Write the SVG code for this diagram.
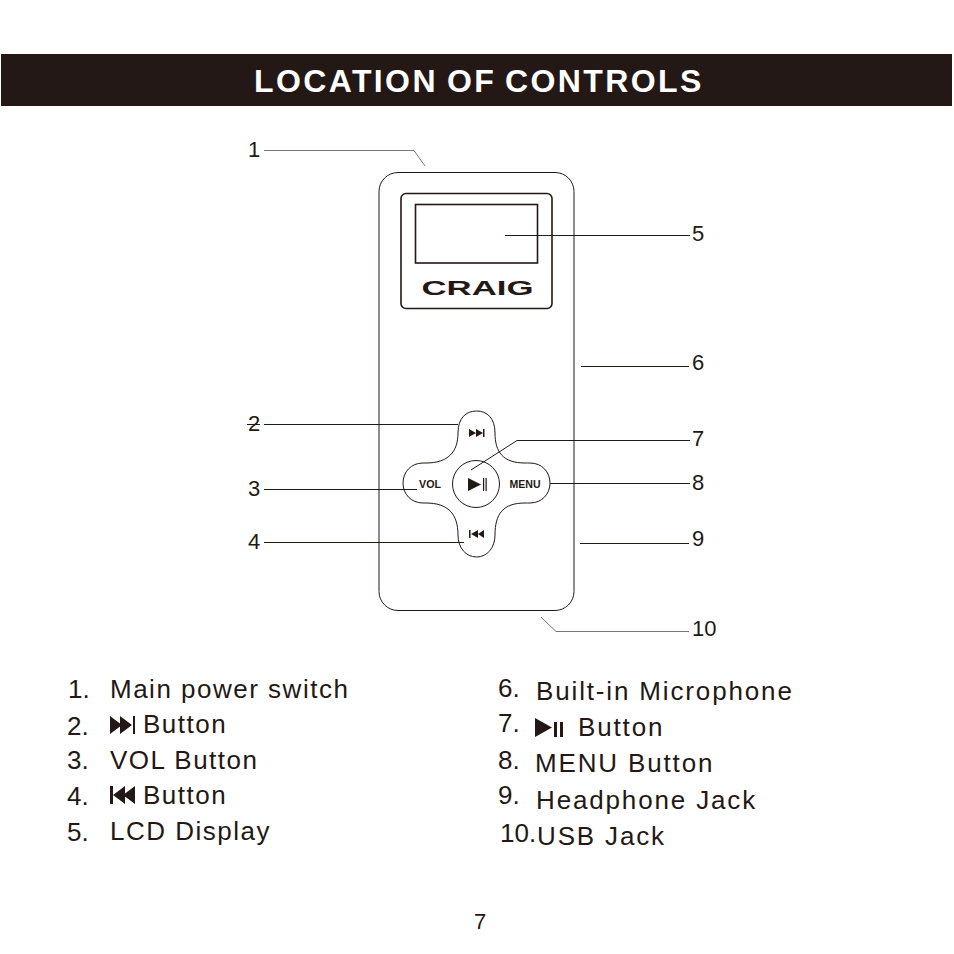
<svg xmlns="http://www.w3.org/2000/svg" width="954" height="954" viewBox="0 0 954 954">
<style>
text{font-family:"Liberation Sans",Arial,sans-serif;fill:#231815}
.n{font-size:22px}
.l{font-size:26px;letter-spacing:1.5px}
.r{font-size:26px;letter-spacing:1.85px}
.c{font-size:26px}
.o{fill:none;stroke:#231815;stroke-width:1}
.t{fill:none;stroke:#231815;stroke-width:1.600}
.w{fill:none;stroke:#231815;stroke-width:1}
.k{fill:#231815}
.b{font-size:10px;font-weight:bold}
</style>
<rect width="954" height="954" fill="#fff"/>
<g id="title"><rect x="1" y="54" width="951" height="52" fill="#231815"/>
<text y="92" font-size="32" font-weight="bold" letter-spacing="2.4" style="fill:#fff"><tspan x="254">LOCATION</tspan><tspan x="447">OF</tspan><tspan x="505">CONTROLS</tspan></text></g>
<g id="device">
<rect x="379" y="172.500" width="195" height="438" rx="19" class="o"/>
<rect x="401" y="193.500" width="151" height="115" rx="5" class="t"/>
<rect x="415.500" y="204.500" width="122" height="58.500" class="t"/>
<text x="477.500" y="295" text-anchor="middle" font-size="21" font-weight="bold" textLength="112" lengthAdjust="spacingAndGlyphs">CRAIG</text>
</g>
<g id="dpad">
<path class="w" d="M458,433C458,418 466,411 476.500,411C487,411 495,418 495,433C495,452 503,463 525,463C527,463 528,463 530,463C542,463 550,472 550,483C550,494 542,503 530,503C528,503 527,503 525,503C503,503 495,514 495,535C495,548 487,557 476.500,557C466,557 458,548 458,535C458,514 448,503 426,503C425,503 424,503 423,503C411,503 403,494 403,483C403,472 411,463 423,463C424,463 425,463 426,463C448,463 458,452 458,433Z"/>
<circle cx="476" cy="484" r="23.500" class="w"/>
</g>
<g id="button-next"><path class="k" d="M469,429l7,4l-7,4zM476,429l7,4l-7,4z"/><rect x="483" y="429" width="1.500" height="8" class="k"/></g>
<g id="button-prev"><rect x="469" y="530" width="1.500" height="8" class="k"/><path class="k" d="M478,530l-7,4l7,4zM484,530l-6,4l6,4z"/></g>
<g id="button-play"><path class="k" d="M468,478l13,6.500l-13,6.500z"/><rect x="483" y="478" width="1.200" height="13" class="k"/><rect x="485.500" y="478" width="1.200" height="13" class="k"/></g>
<g id="button-vol"><text class="b" x="430" y="488" text-anchor="middle" textLength="22" lengthAdjust="spacingAndGlyphs">VOL</text></g>
<g id="button-menu"><text class="b" x="525" y="488" text-anchor="middle" textLength="31" lengthAdjust="spacingAndGlyphs">MENU</text></g>
<g id="connectors">
<path class="w" style="stroke:#777" d="M264,150.500H414L425,166"/>
<path class="w" d="M505,235.500H690"/>
<path class="w" d="M581,366.500H689"/>
<path class="w" d="M264,424.500H458"/>
<path class="w" d="M471,470L517,440.500H690"/>
<path class="w" d="M264,489.500H417"/>
<path class="w" d="M550,483.500H690"/>
<path class="w" d="M264,542.500H464"/>
<path class="w" d="M580,543.500H689"/>
<path class="w" style="stroke:#777" d="M541,617L556,631.500H689"/>
<path class="w" d="M247,424.500H260"/>
</g>
<g id="callouts">
<text class="n" x="248" y="157">1</text>
<text class="n" x="248" y="431">2</text>
<text class="n" x="248" y="496">3</text>
<text class="n" x="248" y="549">4</text>
<text class="n" x="692" y="241">5</text>
<text class="n" x="692" y="370">6</text>
<text class="n" x="692" y="446">7</text>
<text class="n" x="692" y="490">8</text>
<text class="n" x="692" y="546">9</text>
<text class="n" x="692" y="636">10</text>
</g>
<g id="legend-left">
<text class="c" x="68" y="698">1.</text><text class="l" x="110" y="698">Main power switch</text>
<text class="c" x="67" y="735">2.</text><text class="l" x="143" y="733">Button</text>
<path class="k" d="M110,716l12,9l-12,9zM120,716l12,9l-12,9z"/><rect x="133" y="716" width="2" height="18" class="k"/>
<text class="c" x="67" y="769">3.</text><text class="l" x="110" y="769">VOL Button</text>
<text class="c" x="67" y="805">4.</text><text class="l" x="143" y="804">Button</text>
<rect x="110" y="786" width="3" height="18" class="k"/><path class="k" d="M125,786l-12,9l12,9zM135,786l-12,9l12,9z"/>
<text class="c" x="67" y="841">5.</text><text class="l" x="110" y="840">LCD Display</text>
</g>
<g id="legend-right">
<text class="c" x="498" y="697">6.</text><text class="r" x="536" y="700">Built-in Microphone</text>
<text class="c" x="498" y="732">7.</text><text class="r" x="578" y="736">Button</text>
<path class="k" d="M535,718l17,9.500l-17,9.500z"/><rect x="554" y="722" width="3" height="15" class="k"/><rect x="560" y="722" width="3" height="15" class="k"/>
<text class="c" x="498" y="769">8.</text><text class="r" x="535" y="772">MENU Button</text>
<text class="c" x="498" y="804">9.</text><text class="r" x="536" y="809">Headphone Jack</text>
<text class="c" x="500" y="842">10.</text><text class="r" x="537" y="845">USB Jack</text>
</g>
<text id="page" x="474" y="929" font-size="22">7</text>
</svg>
